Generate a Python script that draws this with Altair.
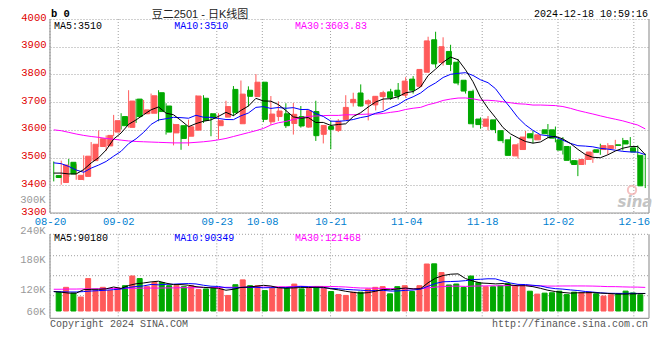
import altair as alt
import pandas as pd

# ---------------- data ----------------
opens = [3435, 3410, 3483, 3421, 3432, 3489, 3540, 3542, 3592, 3648,
         3609, 3711, 3658, 3660, 3734, 3686, 3589, 3615, 3577, 3599,
         3714, 3658, 3615, 3646, 3746, 3622, 3743, 3720, 3772, 3629,
         3648, 3658, 3623, 3648, 3610, 3666, 3584, 3612, 3598, 3637,
         3698, 3733, 3694, 3690, 3720, 3737, 3743, 3725, 3783, 3757,
         3808, 3925, 3843, 3883, 3844, 3779, 3739, 3639, 3613, 3636,
         3597, 3564, 3506, 3529, 3586, 3564, 3600, 3600, 3564, 3540,
         3489, 3475, 3493, 3528, 3529, 3532, 3546, 3561, 3535, 3508]
highs = [3486, 3489, 3495, 3476, 3508, 3556, 3598, 3580, 3654, 3660,
         3743, 3712, 3708, 3731, 3743, 3696, 3622, 3616, 3637, 3725,
         3725, 3660, 3660, 3705, 3758, 3778, 3757, 3801, 3773, 3722,
         3703, 3696, 3697, 3686, 3670, 3705, 3617, 3633, 3639, 3725,
         3734, 3764, 3710, 3722, 3741, 3748, 3769, 3790, 3794, 3819,
         3936, 3954, 3934, 3907, 3856, 3780, 3745, 3645, 3650, 3637,
         3598, 3576, 3552, 3596, 3596, 3583, 3621, 3612, 3574, 3541,
         3490, 3514, 3528, 3550, 3552, 3564, 3571, 3574, 3544, 3514]
lows = [3414, 3402, 3430, 3420, 3418, 3487, 3538, 3525, 3578, 3601,
        3608, 3625, 3657, 3658, 3631, 3583, 3544, 3528, 3542, 3598,
        3625, 3577, 3566, 3645, 3650, 3621, 3684, 3719, 3628, 3618,
        3632, 3607, 3583, 3608, 3608, 3560, 3551, 3530, 3592, 3636,
        3684, 3684, 3634, 3670, 3672, 3708, 3710, 3716, 3731, 3756,
        3807, 3824, 3832, 3812, 3761, 3731, 3608, 3604, 3598, 3588,
        3552, 3507, 3496, 3528, 3552, 3563, 3570, 3555, 3511, 3479,
        3433, 3474, 3481, 3510, 3511, 3531, 3526, 3540, 3501, 3390]
closes = [3428, 3473, 3441, 3436, 3505, 3548, 3568, 3580, 3633, 3615,
          3704, 3648, 3672, 3723, 3666, 3592, 3619, 3569, 3611, 3722,
          3634, 3643, 3633, 3684, 3662, 3729, 3721, 3772, 3638, 3657,
          3668, 3615, 3656, 3614, 3669, 3579, 3616, 3602, 3631, 3681,
          3710, 3686, 3705, 3721, 3734, 3716, 3722, 3776, 3743, 3818,
          3921, 3838, 3900, 3836, 3769, 3740, 3622, 3619, 3639, 3601,
          3561, 3508, 3546, 3574, 3571, 3582, 3586, 3570, 3527, 3490,
          3475, 3493, 3520, 3519, 3543, 3543, 3544, 3549, 3520, 3398]
volumes = [96900, 121900, 91900, 71800, 167000, 105200, 121900, 105200, 118600, 130300,
           180400, 167000, 125300, 147000, 147000, 130300, 130300, 125300, 130300, 110200,
           113600, 116900, 113600, 80200, 135300, 160300, 130300, 130300, 105200, 116900,
           116900, 116900, 138600, 113600, 116900, 125300, 116900, 100200, 85200, 80200,
           96900, 96900, 113600, 121900, 125300, 88500, 125300, 130300, 100200, 130300,
           242000, 243000, 198000, 134000, 139000, 121000, 180000, 147000, 125000, 125000,
           130000, 142000, 128000, 125000, 102000, 87000, 92000, 94000, 102000, 84500,
           97000, 93300, 97000, 88500, 76800, 83500, 88500, 102400, 93000, 83500]

# moving-average values before enough history is visible
ma5_head = [3444, 3444, 3441, 3441]
ma10_head = [3481, 3478, 3468, 3455, 3447, 3462, 3473, 3486, 3505]
ma30_head = [3600, 3597, 3591, 3585, 3580, 3576, 3573, 3569, 3566, 3563,
             3560, 3558, 3557, 3556, 3555, 3554, 3553, 3553, 3553, 3555,
             3557, 3560, 3564, 3569, 3576, 3583, 3590, 3597, 3605]
vma5_head = [100000, 97000, 92000, 92000]
vma10_head = [100000, 99000, 98000, 98000, 100000, 103000, 105000, 107000, 110000]
vma30_head = [112000, 112000, 113000, 113000, 114000, 114000, 115000, 115000, 116000, 116000,
              117000, 117000, 118000, 118000, 118000, 119000, 119000, 120000, 120000, 120000,
              121000, 121000, 121000, 122000, 122000, 122000, 123000, 123000, 123000]

tick_idx = [0, 9, 22, 28, 37, 47, 57, 67, 77]
tick_labels = ['08-20', '09-02', '09-23', '10-08', '10-21', '11-04', '11-18', '12-02', '12-16']
price_ticks = [3300, 3400, 3500, 3600, 3700, 3800, 3900, 4000]
vol_tick_vals = [0, 108200, 262700, 414600, 574200]
vol_tick_labels = ['60K', '120K', '180K', '240K', '300K']
vol_grid_vals = [78800, 181800, 284800]
vol_frame = [-37600, 395000]

price_ma_labels = ['MA5:3510', 'MA10:3510', 'MA30:3603.83']
vol_ma_labels = ['MA5:90180', 'MA10:90349', 'MA30:121468']
title_text = '豆二2501 - 日K线图'
time_text = '2024-12-18 10:59:16'

# ---------------- table ----------------
n = len(closes)
df = pd.DataFrame({'i': list(range(n)), 'open': opens, 'high': highs, 'low': lows,
                   'close': closes, 'vol': volumes})
df['dir'] = ['up' if c >= o else 'down' for o, c in zip(opens, closes)]


def ma(series, w, head):
    m = pd.Series(series, dtype=float).rolling(w).mean()
    for k, v in enumerate(head):
        m.iloc[k] = v
    return m


df['ma5'] = ma(closes, 5, ma5_head)
df['ma10'] = ma(closes, 10, ma10_head)
df['ma30'] = ma(closes, 30, ma30_head)
df['vma5'] = ma(volumes, 5, vma5_head)
df['vma10'] = ma(volumes, 10, vma10_head)
df['vma30'] = ma(volumes, 30, vma30_head)

# ---------------- styling ----------------
W, H = 599, 322
MONO = 'Liberation Mono'
RED, GREEN = '#ff5a5a', '#00a800'
GRID = '#a0a0a0'
FRAME = '#999999'

x_scale = alt.Scale(domain=[-0.5, n - 0.5], range=[0, W], nice=False, zero=False)
gx_scale = alt.Scale(domain=[0, n - 1], range=[0, W], nice=False, zero=False)
price_scale = alt.Scale(domain=[3300, 4000], range=[205, 11], nice=False, zero=False)
vol_scale = alt.Scale(domain=[0, 600000], range=[303, 303 - 600000 / 5150], nice=False, zero=False)

col = alt.Color('dir:N', scale=alt.Scale(domain=['up', 'down'], range=[RED, GREEN]), legend=None)
stk = alt.Stroke('dir:N', scale=alt.Scale(domain=['up', 'down'], range=[RED, GREEN]), legend=None)
X = alt.X('i:Q', scale=x_scale, axis=None)

base = alt.Chart(df)
one = pd.DataFrame({'k': [0]})

# vertical grid (with date labels)
grid_df = pd.DataFrame({'g': tick_idx})
label_expr = "[" + ",".join("'%s'" % s for s in tick_labels) + "][indexof([" + \
    ",".join(str(v) for v in tick_idx) + "], datum.value)]"
vgrid_price = alt.Chart(grid_df).mark_rule(color=GRID, strokeDash=[1, 2]).encode(
    x=alt.X('g:Q', scale=gx_scale, axis=alt.Axis(
        values=tick_idx, labelExpr=label_expr, orient='bottom', offset=-114, title=None,
        domain=False, ticks=False, grid=False, labelPadding=0, labelColor='#0080d0',
        labelFont=MONO, labelFontSize=10.5, labelFlush=False, labelOverlap=False)),
    y=alt.YDatum(4000, scale=price_scale, axis=None), y2=alt.Y2Datum(3300))
vgrid_vol = alt.Chart(grid_df).mark_rule(color=GRID, strokeDash=[1, 2]).encode(
    x=alt.X('g:Q', scale=gx_scale, axis=None),
    y=alt.YDatum(vol_frame[1], scale=vol_scale, axis=None), y2=alt.Y2Datum(vol_frame[0]))
hgrid_vol = alt.Chart(pd.DataFrame({'v': vol_grid_vals + [vol_frame[1]]})).mark_rule(
    color=GRID, strokeDash=[1, 2]).encode(
    x=alt.value(0), x2=alt.value(W), y=alt.Y('v:Q', scale=vol_scale, axis=None))


# frames
def hline(value, scale):
    return alt.Chart(one).mark_rule(color=FRAME, strokeWidth=1.2).encode(
        x=alt.value(0), x2=alt.value(W), y=alt.YDatum(value, scale=scale, axis=None))


def vline(xpos, top, bottom, scale):
    return alt.Chart(one).mark_rule(color=FRAME, strokeWidth=1.2).encode(
        x=alt.value(xpos), y=alt.YDatum(top, scale=scale, axis=None), y2=alt.Y2Datum(bottom))


frames = [hline(3300, price_scale), vline(0, 4000, 3300, price_scale), vline(W, 4000, 3300, price_scale),
          hline(vol_frame[0], vol_scale), vline(0, vol_frame[1], vol_frame[0], vol_scale),
          vline(W, vol_frame[1], vol_frame[0], vol_scale)]

# price panel
price_axis = alt.Axis(values=price_ticks, orient='left', title=None, domain=False, ticks=False,
                      labelPadding=4, labelColor='#e00000', labelFont=MONO, labelFontSize=10.5,
                      grid=True, gridColor=GRID, gridDash=[1, 2], labelOffset=-2, format='d')
wick = base.mark_rule(strokeWidth=1).encode(
    x=X, y=alt.Y('low:Q', scale=price_scale, axis=price_axis), y2='high:Q', color=col)
body = base.mark_bar(width=5, strokeWidth=1).encode(
    x=X, y=alt.Y('open:Q', scale=price_scale, axis=None), y2='close:Q', color=col, stroke=stk)


def line(field, color, scale):
    return base.mark_line(color=color, strokeWidth=1).encode(
        x=X, y=alt.Y(field + ':Q', scale=scale, axis=None))


price_lines = [line('ma30', '#ff00ff', price_scale), line('ma10', '#0000ff', price_scale),
               line('ma5', '#000000', price_scale)]

# volume panel
vol_expr = "[" + ",".join("'%s'" % s for s in vol_tick_labels) + "][indexof([" + \
    ",".join(str(v) for v in vol_tick_vals) + "], datum.value)]"
vol_axis = alt.Axis(values=vol_tick_vals, labelExpr=vol_expr, orient='left', title=None,
                    domain=False, ticks=False, grid=False, labelPadding=5, labelColor='#999999',
                    labelFont=MONO, labelFontSize=10.5, labelOverlap=False)
vbars = base.mark_bar(width=5, strokeWidth=1).encode(
    x=X, y=alt.Y('vol:Q', scale=vol_scale, axis=vol_axis), color=col, stroke=stk)
vol_lines = [line('vma30', '#ff00ff', vol_scale), line('vma10', '#0000ff', vol_scale),
             line('vma5', '#000000', vol_scale)]


# texts
def label(text, x, y, color='#000000', size=10.5, align='left', font=MONO, weight='normal',
          style='normal', baseline='middle'):
    return alt.Chart(one).mark_text(text=text, align=align, baseline=baseline, font=font,
                                    fontSize=size, color=color, fontWeight=weight,
                                    fontStyle=style).encode(x=alt.value(x), y=alt.value(y))


texts = [
    label('b 0', 1, 9, size=10.5, weight='bold', baseline='alphabetic'),
    label(title_text, 150, 10, color='#222222', size=11, align='center',
          font='Liberation Sans, Noto Sans CJK SC', baseline='alphabetic'),
    label(time_text, 598, 9, align='right', size=10, baseline='alphabetic'),
    label(price_ma_labels[0], 4, 20.7, size=10, baseline='alphabetic'),
    label(price_ma_labels[1], 124.3, 20.7, size=10, color='#0000ff', baseline='alphabetic'),
    label(price_ma_labels[2], 245, 20.7, size=10, color='#ff00ff', baseline='alphabetic'),
    label(vol_ma_labels[0], 4, 230.3, size=10),
    label(vol_ma_labels[1], 124.3, 230.3, size=10, color='#0000ff'),
    label(vol_ma_labels[2], 245, 230.3, size=10, color='#ff00ff'),
    label('Copyright 2024 SINA.COM', 0, 315.7, size=10, color='#555555'),
    label('http://finance.sina.com.cn', 598, 315.7, size=10, color='#555555', align='right'),
    label('sina', 585, 194, color='#c4c4c4', size=15, align='center', font='DejaVu Sans',
          weight='bold', style='italic'),
]
logo = alt.Chart(one).mark_point(shape='circle', size=70, filled=False, color='#f2a8a8',
                                 strokeWidth=2).encode(x=alt.value(582), y=alt.value(182))

chart = alt.layer(
    vgrid_price, vgrid_vol, hgrid_vol, *frames, logo,
    wick, body, *price_lines, vbars, *vol_lines, *texts
).resolve_scale(x='independent', y='independent').properties(
    width=W, height=H,
    autosize=alt.AutoSizeParams(type='none'),
    padding={'left': 42, 'top': 0, 'right': 3, 'bottom': 6},
).configure_view(stroke=None)

chart.save('out.html', embed_options={'renderer': 'svg', 'actions': False})
